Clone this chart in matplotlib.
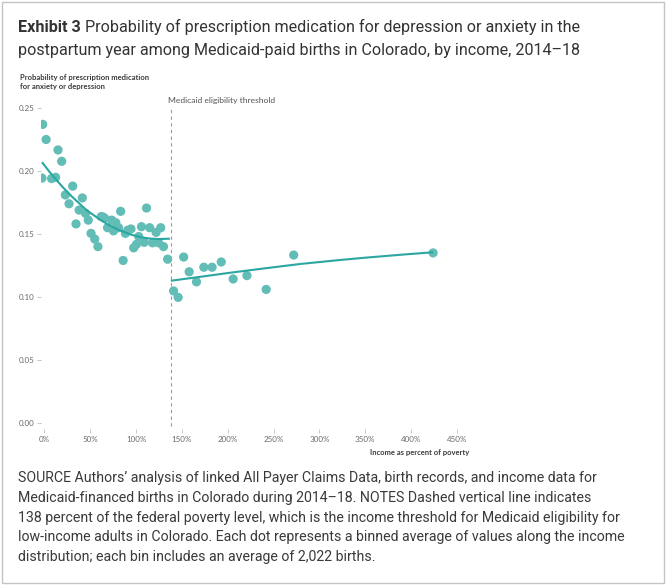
import matplotlib
matplotlib.use("Agg")
import matplotlib.pyplot as plt
from matplotlib.patches import Rectangle
import numpy as np

# ---- data ----
income_pct = [-2.5, -1.7, 2, 8, 12.4, 15, 19, 23, 27, 31, 34.6, 38, 41.5, 45, 48,
              51, 55, 58.5, 62, 64, 66, 69, 73.5, 75.5, 78, 81, 83.3, 86, 88.5,
              91, 94.5, 97.5, 100.5, 103, 106, 109, 111.5, 115, 118, 122, 124.7,
              127, 130, 134.5,
              141, 146, 152, 158, 166, 174, 183, 193, 206, 221, 242, 272, 424]
prob = [0.1944, 0.237, 0.225, 0.194, 0.195, 0.2167, 0.2077, 0.181, 0.174, 0.188,
        0.158, 0.169, 0.1786, 0.1664, 0.161, 0.1505, 0.146, 0.140, 0.1638, 0.1635,
        0.1625, 0.155, 0.161, 0.1525, 0.159, 0.155, 0.168, 0.129, 0.1505, 0.153,
        0.154, 0.139, 0.1418, 0.148, 0.1558, 0.1434, 0.1706, 0.155, 0.143, 0.1513,
        0.143, 0.155, 0.140, 0.130,
        0.1048, 0.0997, 0.1317, 0.120, 0.112, 0.1236, 0.1236, 0.1278, 0.1143,
        0.117, 0.106, 0.1333, 0.135]

left_fit_x = [-2.5, 5, 10, 20, 30, 46, 60, 70, 80, 95, 105, 115, 125, 137]
left_fit_y = [0.207, 0.200, 0.1956, 0.1873, 0.1798, 0.169, 0.1618, 0.1573,
              0.1536, 0.1494, 0.1475, 0.1464, 0.146, 0.1463]
right_fit_x = [138, 170, 200, 240, 279, 320, 350, 390, 424]
right_fit_y = [0.1129, 0.1160, 0.1190, 0.1227, 0.1262, 0.1292, 0.1312, 0.1336, 0.1355]

threshold = 138
y_ticks = [0.00, 0.05, 0.10, 0.15, 0.20, 0.25]
y_tick_labels = ["0.00", "0.05", "0.10", "0.15", "0.20", "0.25"]
x_ticks = [0, 50, 100, 150, 200, 250, 300, 350, 400, 450]
x_tick_labels = ["0%", "50%", "100%", "150%", "200%", "250%", "300%", "350%", "400%", "450%"]

title_bold = "Exhibit 3"
title_rest = " Probability of prescription medication for depression or anxiety in the"
title_line2 = "postpartum year among Medicaid-paid births in Colorado, by income, 2014\u201318"
source_lines = [
    "SOURCE Authors\u2019 analysis of linked All Payer Claims Data, birth records, and income data for",
    "Medicaid-financed births in Colorado during 2014\u201318. NOTES Dashed vertical line indicates",
    "138 percent of the federal poverty level, which is the income threshold for Medicaid eligibility for",
    "low-income adults in Colorado. Each dot represents a binned average of values along the income",
    "distribution; each bin includes an average of 2,022 births.",
]

W, H = 670, 586
fig = plt.figure(figsize=(W / 100, H / 100), dpi=100)
fig.patch.set_facecolor("white")

def fx(px):
    return px / W

def fy(py):
    return 1 - py / H

# border
fig.patches.append(Rectangle((fx(2), fy(583)), fx(662), 581 / H, transform=fig.transFigure,
                             fill=False, edgecolor="#c4c4c4", linewidth=1.0))

chart_font = ["Liberation Sans Narrow", "Lato", "DejaVu Sans"]
text_font = ["Roboto", "DejaVu Sans"]

# axes placement: xlim (-4, 460) -> px 40.6..466 ; ylim (-0.005, 0.255)
x0, x1 = 40.6, 466.1
ytop, ybot = 101.7, 429.3
ax = fig.add_axes([fx(x0), fy(ybot), (x1 - x0) / W, (ybot - ytop) / H])
ax.set_xlim(-4, 460)
ax.set_ylim(-0.005, 0.255)
for s in ax.spines.values():
    s.set_visible(False)

teal_dot = "#62bdb6"
teal_line = "#2ba7a2"

ax.scatter(income_pct, prob, s=44, color=teal_dot, edgecolor="none", zorder=3)
ax.plot(left_fit_x, left_fit_y, color=teal_line, lw=1.5, zorder=4, solid_capstyle="butt")
ax.plot(right_fit_x, right_fit_y, color=teal_line, lw=1.5, zorder=4, solid_capstyle="butt")
ax.plot([threshold, threshold], [-0.002, 0.249], color="#9a9a9a", lw=0.8,
        linestyle=(0, (3, 3)), zorder=2)

ax.set_yticks(y_ticks)
ax.set_yticklabels(y_tick_labels)
ax.set_xticks(x_ticks)
ax.set_xticklabels(x_tick_labels)
ax.tick_params(axis="y", length=3.2, width=0.5, color="#b0b0b0", pad=1.2,
               labelsize=5.8, labelcolor="#6a6a6a")
ax.tick_params(axis="x", length=3.0, width=0.5, color="#b0b0b0", pad=2.0,
               labelsize=5.8, labelcolor="#6a6a6a")
for lab in ax.get_xticklabels() + ax.get_yticklabels():
    lab.set_family(chart_font)

fig.text(fx(20), fy(82), "Probability of prescription medication\nfor anxiety or depression",
         family=chart_font, fontsize=5.5, fontweight="bold", color="#3c3c3c",
         va="center", ha="left", linespacing=1.2)
fig.text(fx(168), fy(101), "Medicaid eligibility threshold", family=chart_font, fontsize=6.1,
         color="#555555", va="center", ha="left")
fig.text(fx(469), fy(452), "Income as percent of poverty", family=chart_font, fontsize=5.5,
         fontweight="bold", color="#3c3c3c", va="center", ha="right")

# title
tcol = "#333333"
tb = fig.text(fx(18), fy(27), title_bold, family=text_font, fontsize=11.6,
              fontweight="bold", color=tcol, va="center", ha="left")
fig.canvas.draw()
r = fig.canvas.get_renderer()
bb = tb.get_window_extent(renderer=r)
fig.text(bb.x1 / W, fy(27), title_rest, family=text_font, fontsize=11.6,
         color=tcol, va="center", ha="left")
fig.text(fx(18), fy(50), title_line2, family=text_font, fontsize=11.6,
         color=tcol, va="center", ha="left")

for i, line in enumerate(source_lines):
    fig.text(fx(18), fy(478 + 19.8 * i), line, family=text_font, fontsize=10.2,
             color="#3a3a3a", va="center", ha="left")

fig.savefig("out.png", dpi=100, facecolor="white")
